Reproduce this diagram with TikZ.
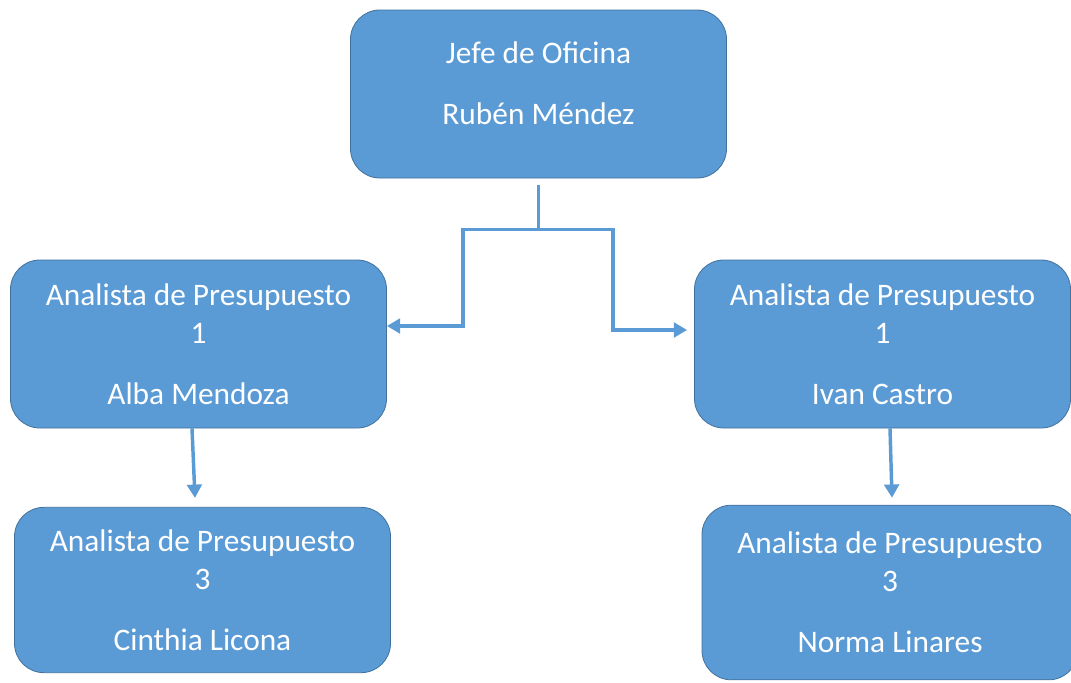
\documentclass[tikz,border=0pt]{standalone}
\usepackage{fontspec}
\setmainfont{Carlito}
\usepackage{xcolor}
\usetikzlibrary{arrows.meta}
\definecolor{boxblue}{HTML}{5B9BD5}
\definecolor{boxedge}{HTML}{41719C}

\begin{document}
\begin{tikzpicture}[x=0.75pt,y=-0.75pt]
        \tikzstyle{every node}+=[inner sep=0pt]
        \tikzstyle{box}=[draw=boxedge,line width=0.6pt,fill=boxblue,rounded corners=22pt,
            text=white,align=center,minimum width=282pt,minimum height=126pt,
            font=\fontsize{23.5}{28.5}\selectfont]
        \tikzstyle{link}=[draw=boxblue,line width=2.6pt]
        \tikzstyle{arrow}=[link,-{Triangle[length=10pt,width=11pt]}]
        \useasboundingbox (0,0) rectangle (1071,682);
        \node [box] (jefe) at (538.5,94) {Jefe de Oficina\\[17pt]Rubén Méndez\\[-12pt]\mbox{}};
        \node [box] (alba) at (198.5,344) {Analista de Presupuesto\\1\\[17pt]Alba Mendoza};
        \node [box] (ivan) at (882.5,344) {Analista de Presupuesto\\1\\[17pt]Ivan Castro};
        \node [box,minimum height=124pt] (cinthia) at (202.5,590) {Analista de Presupuesto\\3\\[17pt]Cinthia Licona};
        \node [box,minimum height=131pt] (norma) at (890,592.5) {Analista de Presupuesto\\3\\[17pt]Norma Linares};
        \coordinate (split) at ([shift={(0,51)}]jefe.south);
        \draw [link,shorten <=5pt] (jefe.south) -- (split);
        \draw [arrow] (split) -| ([shift={(76,-18)}]alba.east) -- ([shift={(0,-18)}]alba.east);
        \draw [arrow] (split) -| ([shift={(-81,-14)}]ivan.west) -- ([shift={(-7,-14)}]ivan.west);
        \draw [arrow] ([shift={(-6.5,0)}]alba.south) -- ([shift={(-7.5,-9)}]cinthia.north);
        \draw [arrow] ([shift={(7.5,0)}]ivan.south) -- ([shift={(2,-7)}]norma.north);
    \end{tikzpicture}
\end{document}
